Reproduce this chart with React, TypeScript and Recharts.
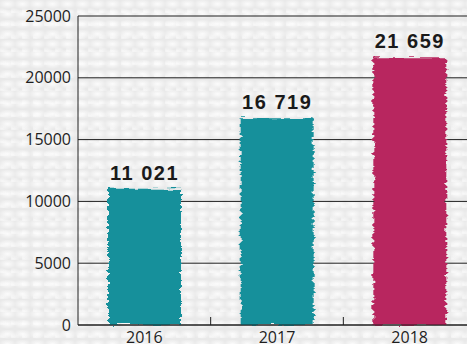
import React from 'react';
import { BarChart, Bar, XAxis, YAxis, CartesianGrid, Cell, LabelList } from 'recharts';

const categories = ['2016', '2017', '2018'];
const values = [11021, 16719, 21659];
const barColors = ['#13909b', '#13909b', '#b8285f'];
const yTicks = [0, 5000, 10000, 15000, 20000, 25000];

const data = categories.map((c, i) => ({ year: c, value: values[i] }));

const fmt = (v: any) => String(v).replace(/\B(?=(\d{3})+(?!\d))/g, ' ');

const TICK_MARGIN = 7;
const AXIS_FONT = '"Open Sans", "Noto Sans", sans-serif';

function XTick(props: any) {
  const { x, y, payload, index } = props;
  const half = payload && payload.offset ? payload.offset : 0;
  const axisY = y - TICK_MARGIN;
  const isLast = index === categories.length - 1;
  return (
    <g>
      {!isLast && (
        <line x1={x + half} x2={x + half} y1={axisY} y2={axisY - 8} stroke="#1e1e1e" strokeWidth={1} />
      )}
      <text x={x} y={y} dy="0.71em" textAnchor="middle" fill="#1e1e1e" fontSize={16} fontFamily={AXIS_FONT}>
        {payload.value}
      </text>
    </g>
  );
}

export default function App() {
  return (
    <div
      style={{
        position: 'fixed',
        left: 0,
        top: 0,
        width: 467,
        height: 344,
        overflow: 'hidden',
        backgroundColor: '#e9e9e9',
        backgroundImage:
          'radial-gradient(ellipse 9px 5px at 50% 40%, rgba(255,255,255,0.85), rgba(255,255,255,0) 100%), radial-gradient(ellipse 7px 4px at 20% 90%, rgba(255,255,255,0.6), rgba(255,255,255,0) 100%)',
        backgroundSize: '15px 10px, 11px 13px',
      }}
    >
      <BarChart
        width={476}
        height={344}
        data={data}
        margin={{ top: 16, right: 0, bottom: 0, left: 0 }}
      >
        <defs>
          <filter id="rough" x="-15%" y="-10%" width="130%" height="120%">
            <feTurbulence type="fractalNoise" baseFrequency="0.06 0.35" numOctaves="2" seed="4" result="n" />
            <feDisplacementMap in="SourceGraphic" in2="n" scale="7" xChannelSelector="R" yChannelSelector="G" />
          </filter>
        </defs>
        <CartesianGrid vertical={false} stroke="#1e1e1e" strokeWidth={1} />
        <XAxis
          dataKey="year"
          height={19}
          tickLine={false}
          tickSize={0}
          tickMargin={TICK_MARGIN}
          interval={0}
          axisLine={{ stroke: '#1e1e1e' }}
          tick={<XTick />}
        />
        <YAxis
          width={78}
          domain={[0, 25000]}
          ticks={yTicks}
          tickLine={false}
          tickSize={0}
          tickMargin={TICK_MARGIN}
          interval={0}
          axisLine={{ stroke: '#1e1e1e' }}
          tick={{ fill: '#1e1e1e', fontSize: 16, fontFamily: AXIS_FONT }}
        />
        <Bar dataKey="value" barSize={73} isAnimationActive={false}>
          {data.map((d, i) => (
            <Cell key={d.year} fill={barColors[i]} filter="url(#rough)" />
          ))}
          <LabelList
            dataKey="value"
            position="top"
            offset={9}
            formatter={fmt}
            fill="#1a1a1a"
            fontSize={20}
            fontWeight="bold"
            fontFamily='"Liberation Sans", Arial, sans-serif'
            letterSpacing={1.5}
          />
        </Bar>
      </BarChart>
    </div>
  );
}
